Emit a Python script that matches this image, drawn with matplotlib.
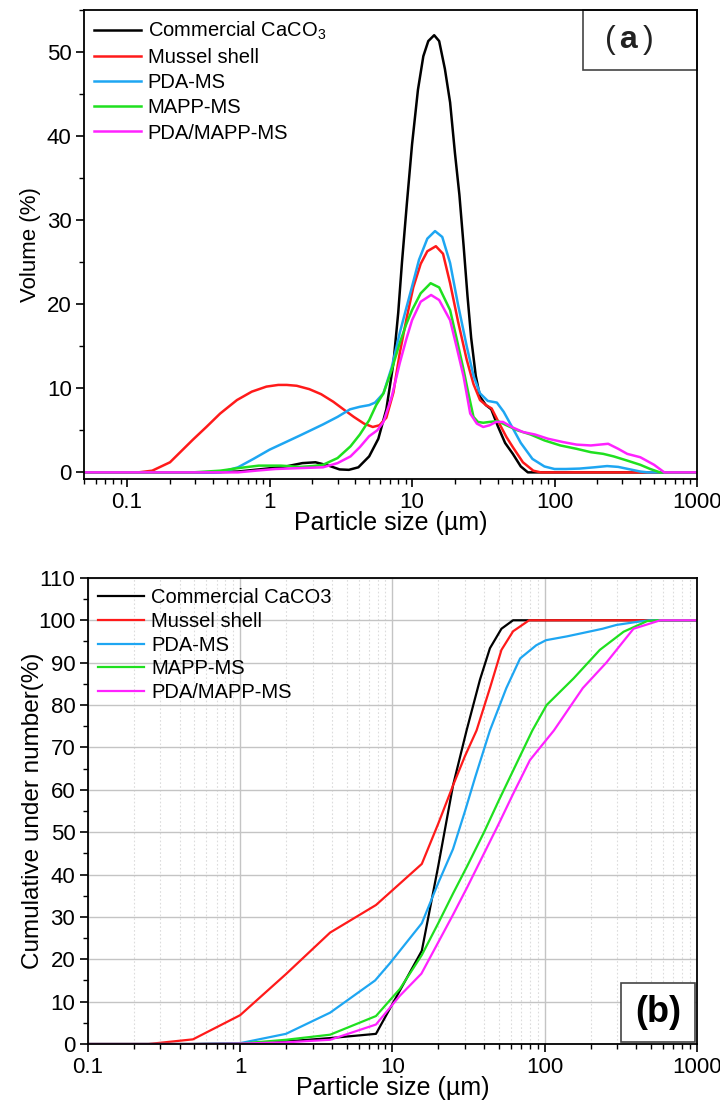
import numpy as np
import matplotlib
matplotlib.use('Agg')
import matplotlib.pyplot as plt
from matplotlib.ticker import MultipleLocator, LogLocator, FixedLocator, NullFormatter

plt.rcParams['font.family'] = ['Liberation Sans', 'DejaVu Sans']
plt.rcParams['mathtext.fontset'] = 'custom'
plt.rcParams['mathtext.rm'] = 'Liberation Sans'
plt.rcParams['mathtext.bf'] = 'Liberation Sans:bold'

# ---- panel (a): volume distribution ----
cc_x = [0.05, 0.4, 0.6, 0.9, 1.3, 1.7, 2.1, 2.6, 3.1, 3.6, 4.2, 5.0, 5.8, 6.6, 7.4, 8.0, 8.5, 9.2, 10,
        11, 12, 13, 14.3, 15.5, 17, 18.5, 20, 21.5, 23, 24.5, 26, 28, 30, 33, 36, 40, 45, 51, 58, 65, 1000]
cc_y = [0, 0, 0.1, 0.4, 0.7, 1.1, 1.2, 0.8, 0.35, 0.3, 0.6, 1.9, 4.0, 7.5, 13, 19, 25, 32, 39,
        45.5, 49.5, 51.3, 52, 51.3, 48, 44, 38, 33, 27, 21, 16, 11.5, 9, 8, 7.5, 5.5, 3.5, 2.2, 0.7, 0, 0]

ms_x = [0.05, 0.12, 0.15, 0.2, 0.29, 0.36, 0.45, 0.59, 0.75, 0.95, 1.15, 1.32, 1.55, 1.9, 2.3, 2.8,
        3.3, 3.9, 4.6, 5.3, 5.9, 6.6, 7.4, 8.2, 9.2, 10.2, 11.5, 12.8, 14.7, 16.5, 18.5, 21, 24.2, 27,
        30, 33, 36.2, 41, 46, 51, 60, 71, 80, 1000]
ms_y = [0, 0, 0.2, 1.2, 3.9, 5.4, 7.0, 8.6, 9.6, 10.2, 10.4, 10.4, 10.3, 9.9, 9.3, 8.4,
        7.5, 6.6, 5.8, 5.4, 5.6, 6.5, 9.5, 14.2, 18.5, 22, 24.8, 26.3, 26.9, 26.0, 22.5, 18, 13.4, 10.5,
        8.6, 8.0, 7.6, 5.8, 4.2, 3.0, 1.2, 0.2, 0, 0]

pda_x = [0.05, 0.45, 0.6, 0.77, 1.0, 1.3, 1.64, 2.0, 2.37, 3.0, 3.67, 4.3, 5.0, 5.5, 6.3, 7.2, 8.2,
         9.1, 10, 11.2, 12.8, 14.5, 16.3, 18.5, 21, 24.2, 27, 30, 34, 39.4, 44, 50, 58, 70, 85, 100,
         120, 150, 190, 234, 280, 340, 400, 450, 1000]
pda_y = [0, 0, 0.6, 1.6, 2.7, 3.6, 4.4, 5.1, 5.7, 6.6, 7.5, 7.8, 8.0, 8.3, 9.4, 12.5, 16.6,
         19.5, 22.1, 25.3, 27.8, 28.7, 28.0, 24.9, 20, 15, 11.5, 9.4, 8.5, 8.3, 7.2, 5.5, 3.5, 1.6, 0.7, 0.4,
         0.4, 0.45, 0.6, 0.75, 0.65, 0.35, 0.1, 0, 0]

mapp_x = [0.05, 0.29, 0.45, 0.6, 0.84, 1.2, 1.64, 2.0, 2.37, 3.0, 3.7, 4.3, 5.0, 5.6, 6.3, 7.2, 8.2,
          9.1, 10, 11.5, 13.5, 15.5, 18.5, 20.5, 23, 25, 27, 29, 31.6, 35, 40, 46, 55, 68, 85, 110,
          143, 180, 220, 260, 324, 400, 470, 550, 1000]
mapp_y = [0, 0, 0.2, 0.5, 0.8, 0.8, 0.65, 0.75, 0.9, 1.7, 3.1, 4.5, 6.2, 8.0, 9.4, 12.2, 15.4,
          17.6, 19.3, 21.3, 22.5, 22.0, 19.3, 16, 12.2, 9.2, 6.6, 6.0, 5.9, 6.0, 6.1, 5.6, 5.0, 4.5, 3.8, 3.2,
          2.8, 2.4, 2.2, 1.9, 1.4, 0.9, 0.4, 0, 0]

pm_x = [0.05, 0.6, 0.8, 1.1, 1.6, 2.37, 3.0, 3.7, 4.3, 5.0, 5.7, 6.3, 7.2, 8.2, 9.1, 10, 11.5, 13.6,
        15.5, 18.5, 20.5, 23, 25.6, 28.5, 31.6, 35, 39, 43.5, 50, 60, 73, 90, 115, 143, 180, 238, 280,
        324, 400, 500, 590, 1000]
pm_y = [0, 0, 0.2, 0.4, 0.5, 0.6, 1.1, 1.9, 3.0, 4.3, 5.0, 6.0, 9.0, 13, 15.8, 18.1, 20.3, 21.1,
        20.5, 18.1, 15, 11.4, 7.0, 5.8, 5.4, 5.6, 6.0, 6.0, 5.4, 4.8, 4.5, 4.0, 3.6, 3.3, 3.2, 3.4, 2.8,
        2.2, 1.8, 0.9, 0, 0]

# ---- panel (b): cumulative under number ----
cb_x = [0.1, 0.25, 0.5, 1, 2, 3.9, 7.8, 15.6, 20, 25, 30.7, 37.6, 43.7, 52, 62, 1000]
cb_y = [0, 0, 0, 0.1, 0.6, 1.4, 2.4, 22, 42, 61, 74, 86, 93.4, 98, 100, 100]

mb_x = [0.1, 0.25, 0.49, 1, 2, 3.9, 7.8, 15.6, 20, 25, 30, 35.7, 43.7, 52, 62, 79, 1000]
mb_y = [0, 0, 1.1, 6.8, 16.5, 26.3, 32.8, 42.5, 52, 61, 68, 74, 84, 93, 97.4, 100, 100]

pdab_x = [0.1, 0.5, 1, 2, 3.9, 7.7, 9.6, 15.6, 20, 25, 30, 35, 43.7, 56, 69, 88, 102, 140, 178,
          240, 296, 400, 490, 1000]
pdab_y = [0, 0, 0.2, 2.4, 7.4, 15, 19, 28.5, 38, 46, 55, 63, 74, 84, 91, 94.1, 95.3, 96.2, 97,
          98, 98.9, 99.6, 100, 100]

mappb_x = [0.1, 0.5, 1, 2, 3.9, 7.8, 11.2, 15.6, 20, 25, 31, 40, 50, 62, 83, 103, 155, 230, 330,
           470, 550, 1000]
mappb_y = [0, 0, 0.1, 1.0, 2.2, 6.6, 13, 21, 28.5, 35.5, 42, 50, 57.5, 64.5, 74, 80, 86.3, 93, 97.3,
           99.8, 100, 100]

pmb_x = [0.1, 0.5, 1, 2, 3.9, 7.8, 11.2, 15.5, 20, 25, 31, 40, 50, 62, 80, 115, 178, 254, 383, 575, 1000]
pmb_y = [0, 0, 0.1, 0.4, 1.0, 4.6, 11.4, 16.6, 24, 30.5, 37, 45, 52, 59, 67, 74, 84, 90, 98, 100, 100]

colors = ['black', '#ff1a1a', '#1ea6f2', '#1fe01f', '#ff22ff']
labels_a = ['Commercial CaCO$_3$', 'Mussel shell', 'PDA-MS', 'MAPP-MS', 'PDA/MAPP-MS']
labels_b = ['Commercial CaCO3', 'Mussel shell', 'PDA-MS', 'MAPP-MS', 'PDA/MAPP-MS']

fig = plt.figure(figsize=(7.2, 11.09), dpi=100)

# ---------- (a) ----------
ax1 = fig.add_axes([0.117, 0.568, 0.851, 0.423])
series_a = [(cc_x, cc_y), (ms_x, ms_y), (pda_x, pda_y), (mapp_x, mapp_y), (pm_x, pm_y)]
for (x, y), c, lab in zip(series_a, colors, labels_a):
    ax1.plot(x, y, color=c, lw=1.8, label=lab)
ax1.set_xscale('log')
ax1.set_xlim(0.05, 1000)
ax1.set_ylim(-0.8, 55)
ax1.xaxis.set_major_locator(FixedLocator([0.1, 1, 10, 100, 1000]))
ax1.set_xticklabels(['0.1', '1', '10', '100', '1000'])
ax1.xaxis.set_minor_locator(LogLocator(base=10, subs=np.arange(2, 10)))
ax1.xaxis.set_minor_formatter(NullFormatter())
ax1.yaxis.set_major_locator(MultipleLocator(10))
ax1.yaxis.set_minor_locator(MultipleLocator(5))
ax1.tick_params(which='major', direction='out', length=6, width=1.2, labelsize=16, pad=3)
ax1.tick_params(which='minor', direction='out', length=3.5, width=1)
ax1.set_xlabel('Particle size (µm)', fontsize=18, labelpad=-1)
ax1.set_ylabel('Volume (%)', fontsize=16, labelpad=4)
for s in ax1.spines.values():
    s.set_linewidth(1.3)
leg = ax1.legend(loc='upper left', frameon=False, fontsize=14.5, handlelength=2.3,
                 labelspacing=0.3, borderaxespad=0.1, handletextpad=0.35)
ax1.text(0.888, 0.936, r'$(\,\mathbf{a}\,)$', transform=ax1.transAxes, fontsize=23,
         ha='center', va='center', color='#222222')
ax1.add_patch(plt.Rectangle((0.814, 0.873), 0.186, 0.127, transform=ax1.transAxes,
                            fill=False, lw=1.2, ec='#444444', clip_on=False))

# ---------- (b) ----------
ax2 = fig.add_axes([0.122, 0.0586, 0.846, 0.4203])
series_b = [(cb_x, cb_y), (mb_x, mb_y), (pdab_x, pdab_y), (mappb_x, mappb_y), (pmb_x, pmb_y)]
for (x, y), c, lab in zip(series_b, colors, labels_b):
    ax2.plot(x, y, color=c, lw=1.6, label=lab)
ax2.set_xscale('log')
ax2.set_xlim(0.1, 1000)
ax2.set_ylim(0, 110)
ax2.xaxis.set_major_locator(FixedLocator([0.1, 1, 10, 100, 1000]))
ax2.set_xticklabels(['0.1', '1', '10', '100', '1000'])
ax2.xaxis.set_minor_locator(LogLocator(base=10, subs=np.arange(2, 10)))
ax2.xaxis.set_minor_formatter(NullFormatter())
ax2.yaxis.set_major_locator(MultipleLocator(10))
ax2.yaxis.set_minor_locator(MultipleLocator(5))
ax2.grid(which='major', color='#c4c4c4', lw=1.0)
ax2.grid(which='minor', axis='x', color='#dcdcdc', lw=0.8, ls=(0, (1.5, 2)))
ax2.set_axisbelow(True)
ax2.tick_params(which='major', direction='out', length=6, width=1.2, labelsize=16, pad=3)
ax2.tick_params(which='minor', direction='out', length=3.5, width=1)
ax2.set_xlabel('Particle size (µm)', fontsize=18, labelpad=-1)
ax2.set_ylabel('Cumulative under number(%)', fontsize=17.5, labelpad=-4)
for s in ax2.spines.values():
    s.set_linewidth(1.3)
ax2.legend(loc='upper left', frameon=False, fontsize=14.5, handlelength=2.3,
           labelspacing=0.24, borderaxespad=0.1, handletextpad=0.35)
ax2.add_patch(plt.Rectangle((0.876, 0.004), 0.12, 0.126, transform=ax2.transAxes,
                            fill=True, fc='white', lw=1.2, ec='#444444', zorder=5))
ax2.text(0.936, 0.067, '(b)', transform=ax2.transAxes, fontsize=26, fontweight='bold',
         ha='center', va='center', zorder=6)

fig.savefig('out.png', dpi=100)
